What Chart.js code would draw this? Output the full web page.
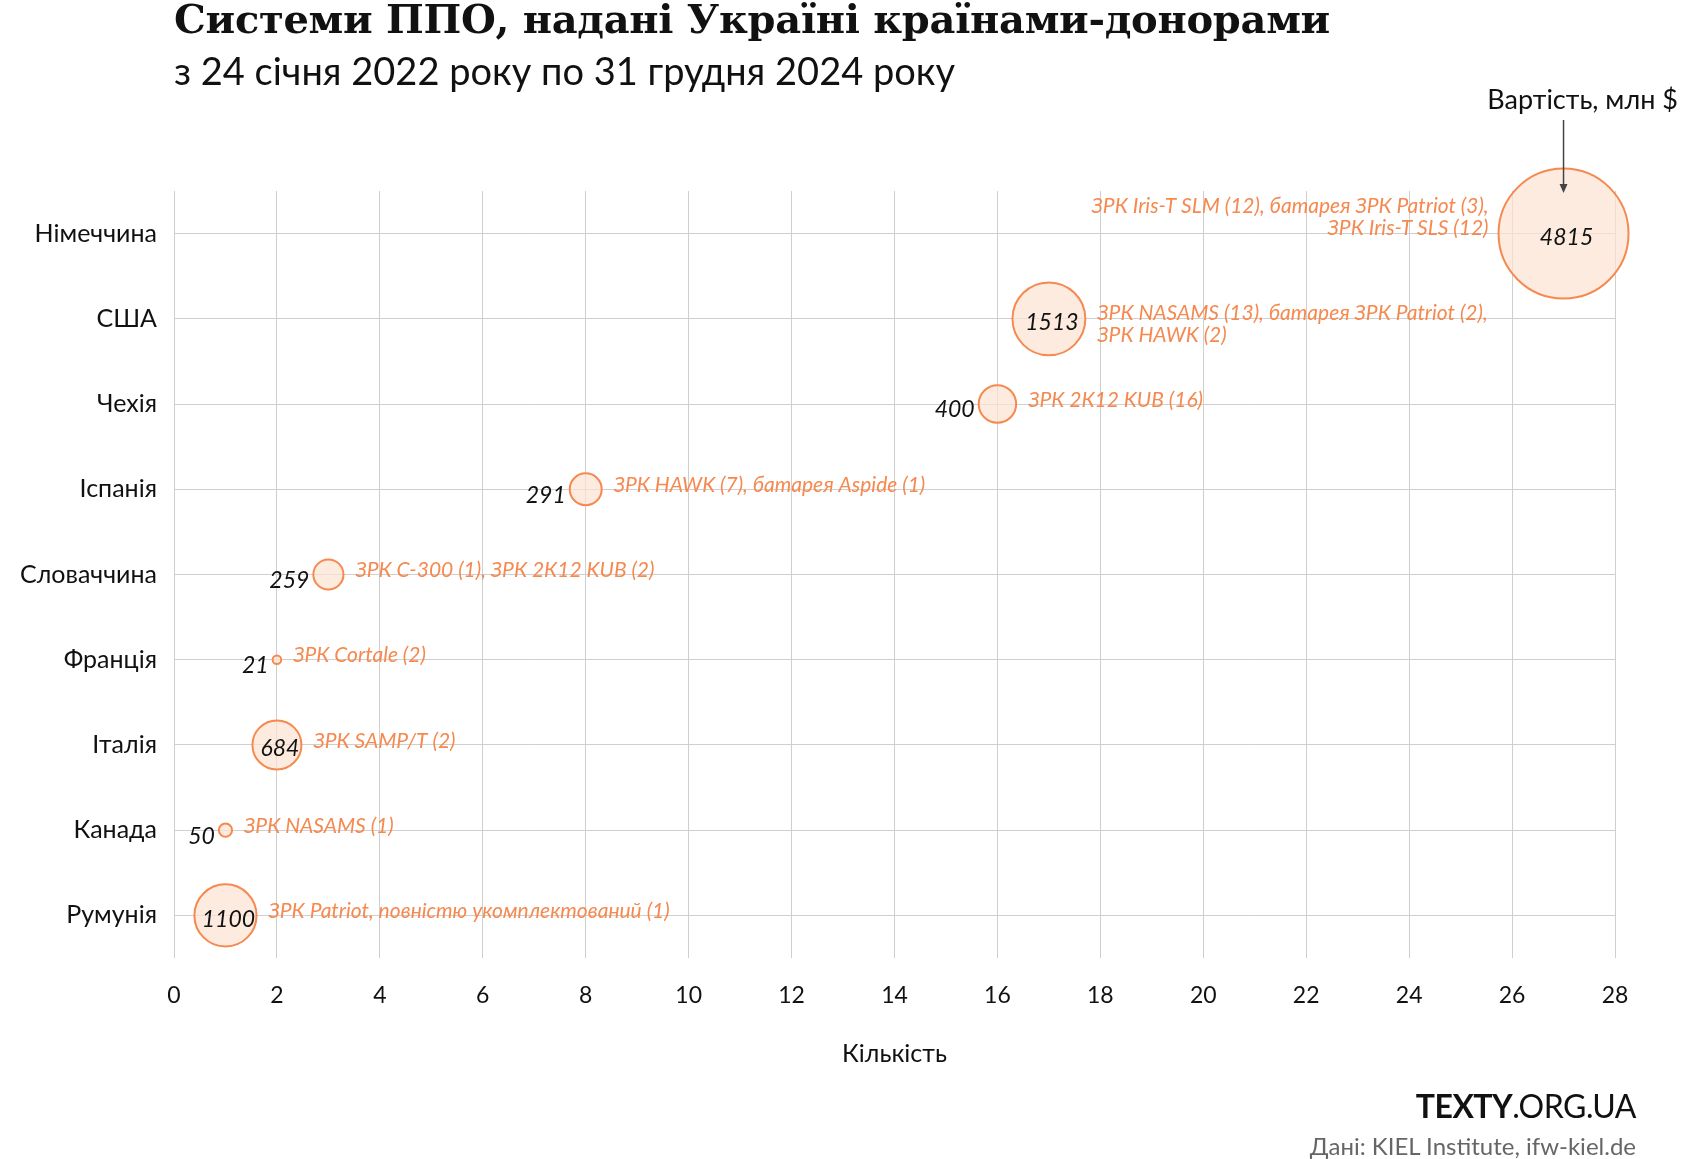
<!DOCTYPE html>
<html>
<head>
<meta charset="utf-8">
<script src="https://cdn.jsdelivr.net/npm/chart.js@4.4.1/dist/chart.umd.min.js"></script>
<style>
  body { margin: 0; background: #fff; font-family: Lato, 'Open Sans', sans-serif; }
  #wrap { position: relative; width: 1682px; height: 1159px; }
  .txt { position: absolute; white-space: nowrap; color: #111; }
</style>
</head>
<body>
<div id="wrap">
  <canvas id="bubbleChart" width="1682" height="1159"></canvas>
  <div class="txt" style="left:174px; top:-5px; font: bold 40px 'DejaVu Serif', 'Liberation Serif', serif; letter-spacing:-0.3px;">Системи ППО, надані Україні країнами-донорами</div>
  <div class="txt" style="left:174px; top:47px; font-size:38px;">з 24 січня 2022 року по 31 грудня 2024 року</div>
  <div class="txt" style="right:4px; top:82px; font-size:27px;">Вартість, млн $</div>
  <div class="txt" style="right:46px; top:1086px; font-size:32px; letter-spacing:-0.5px;"><b>TEXTY</b>.ORG.UA</div>
  <div class="txt" style="right:46px; top:1131px; font-size:24px; color:#666;">Дані: KIEL Institute, ifw-kiel.de</div>
</div>
<script>
const countries = ['Німеччина', 'США', 'Чехія', 'Іспанія', 'Словаччина', 'Франція', 'Італія', 'Канада', 'Румунія'];
const quantities = [27, 17, 16, 8, 3, 2, 2, 1, 1];
const costs = [4815, 1513, 400, 291, 259, 21, 684, 50, 1100];
const systemLabels = [
  ['ЗРК Iris-T SLM (12), батарея ЗРК Patriot (3),', 'ЗРК Iris-T SLS (12)'],
  ['ЗРК NASAMS (13), батарея ЗРК Patriot (2),', 'ЗРК HAWK (2)'],
  ['ЗРК 2К12 KUB (16)'],
  ['ЗРК HAWK (7), батарея Aspide (1)'],
  ['ЗРК С-300 (1), ЗРК 2К12 KUB (2)'],
  ['ЗРК Cortale (2)'],
  ['ЗРК SAMP/T (2)'],
  ['ЗРК NASAMS (1)'],
  ['ЗРК Patriot, повністю укомплектований (1)'],
];
const xTicks = [0, 2, 4, 6, 8, 10, 12, 14, 16, 18, 20, 22, 24, 26, 28];

const ORANGE = '#f5894f';
const maxRadius = 65;
const radiusOf = v => maxRadius * Math.sqrt(v / 4815);

const labelPlugin = {
  id: 'labels',
  afterDatasetsDraw(chart) {
    const ctx = chart.ctx;
    const meta = chart.getDatasetMeta(0);
    ctx.save();
    meta.data.forEach((pt, i) => {
      const r = radiusOf(costs[i]);
      const inside = r > 22;
      ctx.font = 'italic 23px Lato, sans-serif';
      ctx.fillStyle = '#111';
      ctx.textBaseline = 'middle';
      if (inside) {
        ctx.textAlign = 'center';
        ctx.fillText(costs[i], pt.x + 3, pt.y + 4);
      } else {
        ctx.textAlign = 'right';
        ctx.fillText(costs[i], pt.x - r - 4, pt.y + 6);
      }
      ctx.font = 'italic 21px Lato, sans-serif';
      ctx.fillStyle = ORANGE;
      const lines = systemLabels[i];
      if (i === 0) {
        ctx.textAlign = 'right';
        lines.forEach((l, k) => ctx.fillText(l, pt.x - r - 10, pt.y - 27 + k * 22));
      } else {
        ctx.textAlign = 'left';
        const y0 = lines.length > 1 ? pt.y - 6 : pt.y - 4;
        lines.forEach((l, k) => ctx.fillText(l, pt.x + r + 12, y0 + k * 22));
      }
    });
    const g = meta.data[0];
    ctx.strokeStyle = '#444';
    ctx.fillStyle = '#444';
    ctx.lineWidth = 1.5;
    ctx.beginPath();
    ctx.moveTo(g.x, 120);
    ctx.lineTo(g.x, 190);
    ctx.stroke();
    ctx.beginPath();
    ctx.moveTo(g.x - 4, 184);
    ctx.lineTo(g.x + 4, 184);
    ctx.lineTo(g.x, 193);
    ctx.closePath();
    ctx.fill();
    ctx.restore();
  },
};

new Chart(document.getElementById('bubbleChart').getContext('2d'), {
  type: 'bubble',
  data: {
    datasets: [{
      data: quantities.map((q, i) => ({ x: q, y: i, r: radiusOf(costs[i]) })),
      backgroundColor: 'rgba(252, 226, 210, 0.7)',
      borderColor: ORANGE,
      borderWidth: 2,
      clip: false,
    }],
  },
  options: {
    responsive: false,
    animation: false,
    layout: { padding: { left: 0, right: 42, top: 191, bottom: 86 } },
    plugins: { legend: { display: false }, tooltip: { enabled: false } },
    scales: {
      x: {
        min: 0, max: 28,
        afterBuildTicks(scale) { scale.ticks = xTicks.map(v => ({ value: v })); },
        afterFit(scale) { scale.height = 115; },
        grid: { color: '#cfcfcf', drawTicks: false },
        border: { display: false },
        ticks: { color: '#111', padding: 24, font: { family: 'Lato', size: 23 } },
        title: { display: true, text: 'Кількість', color: '#111', padding: { top: 30 }, font: { family: 'Lato', size: 25 } },
      },
      y: {
        reverse: true,
        min: -0.5, max: 8.5,
        afterBuildTicks(scale) { scale.ticks = countries.map((_, i) => ({ value: i })); },
        afterFit(scale) { scale.width = 174; },
        grid: { color: '#cfcfcf', drawTicks: false },
        border: { display: false },
        ticks: {
          color: '#111', padding: 17, font: { family: 'Lato', size: 25 },
          callback: v => countries[v],
        },
      },
    },
  },
  plugins: [labelPlugin],
});
</script>
</body>
</html>
